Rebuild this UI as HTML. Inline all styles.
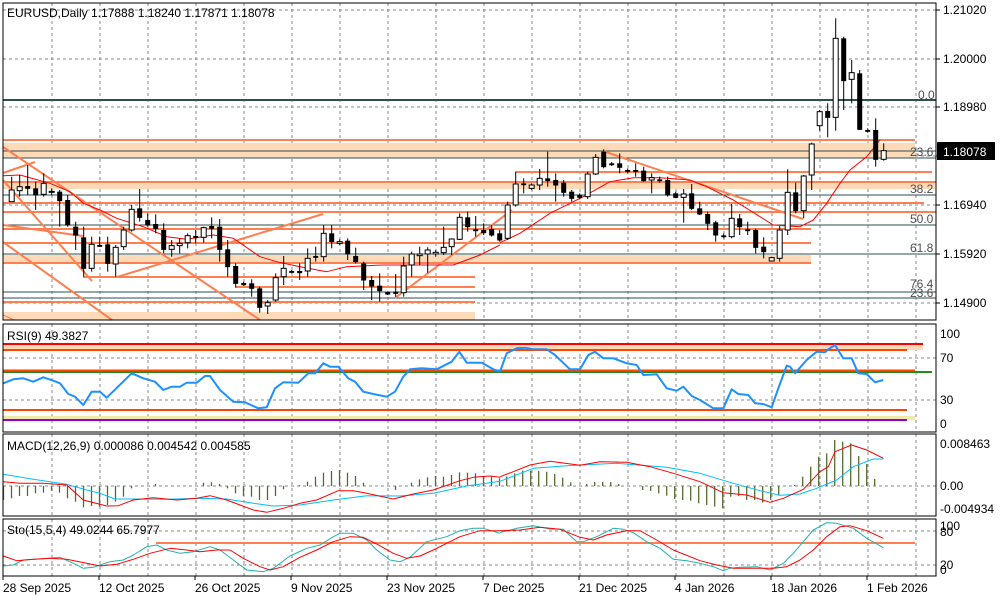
<!DOCTYPE html>
<html><head><meta charset="utf-8"><style>
html,body{margin:0;padding:0;background:#fff;}
svg{display:block;font-family:"Liberation Sans",sans-serif;}
</style></head><body>
<svg id="s" width="1000" height="600" viewBox="0 0 1000 600" xmlns="http://www.w3.org/2000/svg"></svg>
<script>
var o=[];
function L(x1,y1,x2,y2,c,w,d){o.push('<line x1="'+x1+'" y1="'+y1+'" x2="'+x2+'" y2="'+y2+'" stroke="'+c+'" stroke-width="'+(w||1)+'"'+(d?' stroke-dasharray="'+d+'"':'')+'/>');}
function R(x,y,w,h,f){o.push('<rect x="'+x+'" y="'+y+'" width="'+w+'" height="'+h+'" fill="'+f+'"/>');}
function T(x,y,t,c,a,s){o.push('<text x="'+x+'" y="'+y+'" fill="'+(c||'#000')+'" font-size="'+(s||12)+'"'+(a?' text-anchor="'+a+'"':'')+'>'+t+'</text>');}
function P(pts,c,w,ox){var s=pts.map(function(p){return ((p[0]/3)+(ox||0)).toFixed(1)+','+(p[1]/3+320).toFixed(1);}).join(' ');o.push('<polyline points="'+s+'" fill="none" stroke="'+c+'" stroke-width="'+w+'" stroke-linejoin="round"/>');}
function PM(pts,c,w,ox){var s=pts.map(function(p){return ((p[0]/3)+(ox||0)).toFixed(1)+','+(p[1]/3).toFixed(1);}).join(' ');o.push('<polyline points="'+s+'" fill="none" stroke="'+c+'" stroke-width="'+w+'" stroke-linejoin="round"/>');}
var OR='#FF7F50',PE='#FFDAB9',FB='#2F4F4F',GR='#8a8a8a';
var gx=[];for(var x=52;x<936;x+=48)gx.push(x);
var gy=[10,59,107,156,205,254,303];
gx.forEach(function(x){L(x,3,x,320,GR,1,'3,3');L(x,324,x,432,GR,1,'3,3');L(x,434,x,516,GR,1,'3,3');L(x,519,x,576,GR,1,'3,3');});
gy.forEach(function(y){L(3,y,936,y,GR,1,'3,3');});
R(3,143,912,15,PE);R(3,183,932,6,PE);R(3,255,808,8,PE);R(3,312,472,8,PE);
L(3,100,936,100,FB,2);[151,158,195,225,254,292,298].forEach(function(y){L(3,y,936,y,FB,1);});
L(3,140,915,140,OR,2);L(516,172,932,172,OR,2);L(3,182,936,182,OR,2);L(3,203,924,203,OR,2);
L(3,212,936,212,OR,2);L(3,229,811,229,OR,2);L(3,243,811,243,OR,2);L(3,263,811,263,OR,2);
L(83,277,475,277,OR,2);L(235,287,475,287,OR,2);L(3,302,475,302,OR,2);
L(3,147,260,320,OR,2);L(3,180,92,281,OR,2);L(3,242,112,320,OR,2);L(3,173,35,162,OR,2);L(3,225,83,236,OR,2);
L(117,277,323,214,OR,2);L(395,298,512,210,OR,2);L(603,151,803,219,OR,2);L(3,315,14,320,OR,1);
PM([[10,527],[60,525],[150,550],[210,575],[250,610],[300,630],[350,655],[430,680],[500,710],[560,718],[640,705],[700,715],[780,770],[830,785],[900,800],[980,815],[1040,800],[1150,795],[1250,795],[1360,795],[1440,765],[1500,735]],'#FF0000',1);
PM([[0,728],[60,700],[150,640],[250,590],[330,545],[400,533],[480,533],[570,540],[620,560],[700,600],[780,650],[820,675],[900,680],[940,660],[980,610],[1020,550],[1050,510],[1100,470],[1140,420]],'#FF0000',1,500);
var C=[[570,605,530,605,1],[560,572,525,590,1],[558,565,495,585,0],[565,585,545,630,0],[550,583,520,590,1],[574,577,565,585,1],[575,602,570,680,0],[600,675,585,680,0],[680,705,665,750,0],[712,805,680,830,0],[733,805,710,815,1],[735,739,710,740,0],[733,790,710,815,0],[742,792,735,830,1],[690,740,680,750,1],[628,690,615,695,1],[625,652,567,665,0],[660,675,640,680,0],[672,685,643,700,0],[690,748,670,760,0],[737,748,720,770,1],[730,737,715,760,1],[707,728,700,745,1],[708,712,690,730,0],[683,712,680,728,1],[678,685,652,715,0],[680,748,657,785,0],[748,800,720,830,0],[798,850,790,862,0],[849,854,845,858,0],[850,865,838,890,0],[865,922,860,938,0],[908,918,900,942,1],[833,900,820,905,1],[805,830,768,855,1],[813,817,810,820,0],[813,818,790,840,0],[775,813,745,830,1],[768,772,740,785,0],[700,770,675,785,1],[700,725,675,745,0],[725,730,718,735,1],[722,762,715,780,0],[768,785,743,790,0],[790,840,785,870,0],[840,858,828,900,0],[857,872,820,905,0],[876,882,875,885,0],[875,880,822,890,0],[798,878,770,890,1],[762,795,755,830,1],[762,767,740,795,1],[750,762,742,818,1],[757,762,750,770,1],[742,758,680,765,1],[717,740,715,765,1],[652,718,640,720,1],[652,680,635,695,0],[688,692,648,710,0],[690,698,670,705,0],[687,705,675,710,0],[700,720,690,725,0]];
var C2=[[615,715,605,720,1],[552,615,515,620,1],[550,554,535,580,0],[555,565,550,570,1],[535,555,507,570,1],[535,542,455,560,0],[540,555,520,605,0],[548,577,540,590,0],[575,595,570,605,0],[585,592,580,598,0],[522,590,515,597,1],[472,522,462,525,1],[455,500,448,505,0],[490,494,486,498,0],[490,502,460,520,0],[510,514,505,520,0],[510,514,490,530,0],[512,542,500,545,0],[533,540,520,580,1],[538,542,530,548,0],[540,585,530,590,0],[580,592,575,595,0],[582,592,567,668,1],[580,625,552,630,0],[625,642,605,645,0],[642,670,635,690,0],[667,705,662,725,0],[706,710,700,715,0],[655,710,612,715,1],[655,680,642,705,0],[688,692,665,705,0],[690,742,686,760,0],[740,755,712,775,0],[773,783,770,785,1],[690,775,678,785,1],[577,690,508,705,1],[577,632,548,640,0],[528,632,525,655,1],[432,525,428,570,1],[335,377,330,392,1],[333,352,310,412,0],[115,352,55,392,1],[115,242,110,330,0],[218,238,180,310,1],[220,388,210,390,0],[390,394,385,398,0],[390,478,355,500,0],[452,478,430,482,1]];
function cand(x,c){var bt=c[0]/3,bb=c[1]/3,wt=c[2]/3,wb=c[3]/3;L(x,wt,x,wb,'#000',1);var h=Math.max(bb-bt,1);
 if(c[4])o.push('<rect x="'+(x-2.5)+'" y="'+bt+'" width="5" height="'+h+'" fill="#fff" stroke="#000" stroke-width="1"/>');else R(x-2.5,bt,5,h+0.5,'#000');}
C.forEach(function(c,i){cand(11.7+8*i,c);});C2.forEach(function(c,i){cand(507.7+8*i,c);});
T(918,99,'0.0','#4f4f4f');T(910,156,'23.6','#4f4f4f');T(910,193,'38.2','#4f4f4f');T(910,223,'50.0','#4f4f4f');T(910,252,'61.8','#4f4f4f');T(910,288,'76.4','#4f4f4f');T(910,297,'23.6','#4f4f4f');
T(7,17,'EURUSD,Daily  1.17888 1.18240 1.17871 1.18078','#000','',12);
L(3,358,936,358,GR,1,'3,3');L(3,400,936,400,GR,1,'3,3');
R(3,344,920,6,PE);L(3,344,923,344,'#FF0000',2);L(3,350,907,350,'#FF4500',2);
L(3,372,932,372,'#228B22',2);L(3,370.5,915,370.5,'#FF4500',2);L(3,410,907,410,'#FF4500',2);
R(3,416,912,4,'#EEE8AA');L(3,420,907,420,'#9400D3',2);
P([[10,190],[40,178],[70,175],[100,185],[130,172],[160,182],[180,190],[205,222],[225,230],[250,255],[275,215],[300,215],[320,233],[395,160],[430,175],[465,185],[490,210],[515,200],[540,200],[560,188],[590,188],[615,168],[630,168],[660,210],[700,245],[735,247],[775,265],[800,262],[825,205],[850,187],[895,188],[925,160],[945,160],[970,130],[990,140],[1015,140],[1045,175],[1065,185],[1090,215],[1120,222],[1160,230],[1185,215],[1210,170],[1230,148],[1265,145],[1310,148],[1355,125],[1378,95],[1400,128],[1445,128],[1480,148],[1500,155]],'#1E90FF',2);
P([[0,155],[20,100],[50,85],[75,83],[100,88],[140,88],[165,105],[210,148],[240,148],[265,105],[285,95],[310,115],[340,115],[380,130],[410,135],[430,165],[470,163],[500,205],[530,212],[550,200],[575,228],[600,240],[640,265],[670,265],[695,208],[715,222],[745,225],[765,250],[790,252],[815,262],[835,205],[860,137],[870,140],[885,160],[920,120],[950,95],[975,97],[985,88],[1005,75],[1030,115],[1055,115],[1075,160],[1100,162],[1125,187],[1150,180]],'#1E90FF',2,500);
T(7,340,'RSI(9) 49.3827','#000','',12);
L(3,486,936,486,GR,1,'3,3');
var H1=[540,535,528,528,520,518,512,518,535,545,562,558,560,555,545,530,505,498,498,492,498,498,498,498,498,488,487,492,505,520,528,530,540,540,528,508,498,495,485,470,458,453,450,458,468,488,498,500,498,510,498,488,478,472,468,470,465,457,458,460,468,470,475];
var H2=[470,460,452,452,453,455,462,473,487,498,492,486,486,486,492,498,498,510,513,520,527,537,540,542,550,555,560,565,530,528,540,540,548,540,527,497,495,470,440,410,400,360,365,370,408,432,477];
function hb(x,v){var y=v/3+320;if(Math.abs(y-486)<0.8)return;L(x,486,x,y,'#556B2F',1.3);}
H1.forEach(function(v,i){hb(3.5+8*i,v);});H2.forEach(function(v,i){hb(506.7+8*i,v);});
P([[10,463],[100,478],[200,493],[260,510],[300,520],[345,537],[400,537],[500,538],[600,535],[680,537],[760,550],[820,558],[900,555],[1000,540],[1100,527],[1200,528],[1300,520],[1400,498],[1500,484]],'#00BFFF',1);
P([[0,484],[100,445],[200,437],[350,430],[500,442],[600,460],[700,490],[780,512],[840,526],[900,522],[950,505],[1010,480],[1060,440],[1120,417],[1150,417]],'#00BFFF',1,500);
P([[10,485],[60,490],[130,490],[200,495],[250,540],[320,558],[355,557],[400,540],[460,533],[530,540],[590,535],[630,527],[680,540],[720,555],[760,570],[800,577],[850,565],[900,550],[950,540],[1015,512],[1060,512],[1100,520],[1180,537],[1240,522],[1300,510],[1380,482],[1420,472],[1470,468],[1500,472]],'#FF0000',1);
P([[0,470],[40,455],[90,435],[150,424],[240,436],[300,425],[380,427],[450,440],[520,460],[600,485],[670,518],[740,525],[810,547],[850,535],[910,508],[960,455],[985,440],[1005,395],[1055,375],[1100,390],[1150,415]],'#FF0000',1,500);
T(7,450,'MACD(12,26,9) 0.000086 0.004542 0.004585','#000','',12);
L(3,531,936,531,GR,1,'3,3');L(3,565,936,565,GR,1,'3,3');L(156,543,915,543,OR,2);
P([[10,738],[40,735],[70,720],[130,716],[180,712],[220,730],[250,745],[280,742],[300,735],[330,725],[370,720],[400,705],[440,680],[470,675],[500,690],[540,700],[580,695],[630,680],[660,690],[700,720],[740,750],[790,755],[820,745],[870,708],[920,685],[960,675],[1000,650],[1020,640],[1060,640],[1100,660],[1130,690],[1170,720],[1200,725],[1230,712],[1280,665],[1340,650],[1380,632],[1420,625],[1450,625],[1500,640]],'#20B2AA',1);
P([[0,638],[50,625],[100,617],[150,627],[190,628],[230,665],[250,665],[290,650],[340,625],[370,628],[400,638],[440,665],[480,685],[520,718],[560,722],[600,730],[640,740],[670,752],[690,745],[720,742],[770,740],[810,750],[850,730],[880,700],[910,665],[940,630],[980,608],[1010,610],[1060,625],[1100,655],[1150,683]],'#20B2AA',1,500);
P([[10,708],[50,722],[100,718],[150,715],[200,718],[260,730],[300,738],[350,733],[400,718],[450,700],[510,685],[560,690],[600,695],[650,690],[690,690],[730,715],[780,740],[810,750],[850,740],[900,712],[950,690],[1000,665],[1050,650],[1090,652],[1130,672],[1180,700],[1220,715],[1260,708],[1300,690],[1340,670],[1380,650],[1440,632],[1470,632],[1500,632]],'#FF0000',1);
P([[0,632],[60,630],[120,622],[180,628],[240,652],[280,660],[320,645],[380,632],[420,632],[470,660],[520,690],[600,722],[650,735],[700,745],[760,745],[820,745],[860,740],[900,720],[940,690],[980,650],[1020,620],[1050,617],[1100,632],[1150,655]],'#FF0000',1,500);
T(7,534,'Sto(15,5,4) 49.0244 65.7977','#000','',12);
[[3,3,933,317],[3,324,933,108],[3,434,933,82],[3,519,933,57]].forEach(function(r){o.push('<rect x="'+r[0]+'" y="'+r[1]+'" width="'+r[2]+'" height="'+r[3]+'" fill="none" stroke="#000" stroke-width="1"/>');});
var pl=[[10,'1.21020'],[59,'1.20000'],[107,'1.18980'],[156,'1.17960'],[205,'1.16940'],[254,'1.15920'],[303,'1.14900']];
pl.forEach(function(p){L(936,p[0],940,p[0],'#000',1);T(943,p[0]+4,p[1],'#000');});
o.push('<rect x="937" y="142" width="58" height="18" fill="#000"/>');T(943,156,'1.18078','#fff');
T(940,338,'100');T(940,362,'70');T(940,404,'30');T(940,428,'0');
T(940,448,'0.008463');T(940,490,'0.00');T(940,513,'-0.004934');
T(940,530,'100');T(940,536,'80');T(940,569,'20');T(940,574,'0');
var dl=['28 Sep 2025','12 Oct 2025','26 Oct 2025','9 Nov 2025','23 Nov 2025','7 Dec 2025','21 Dec 2025','4 Jan 2026','18 Jan 2026','1 Feb 2026'];
dl.forEach(function(d,i){var x=3+96*i;L(x,576,x,580,'#000',1);T(x,592,d);});
document.getElementById('s').innerHTML=o.join('');
</script>
</body></html>
